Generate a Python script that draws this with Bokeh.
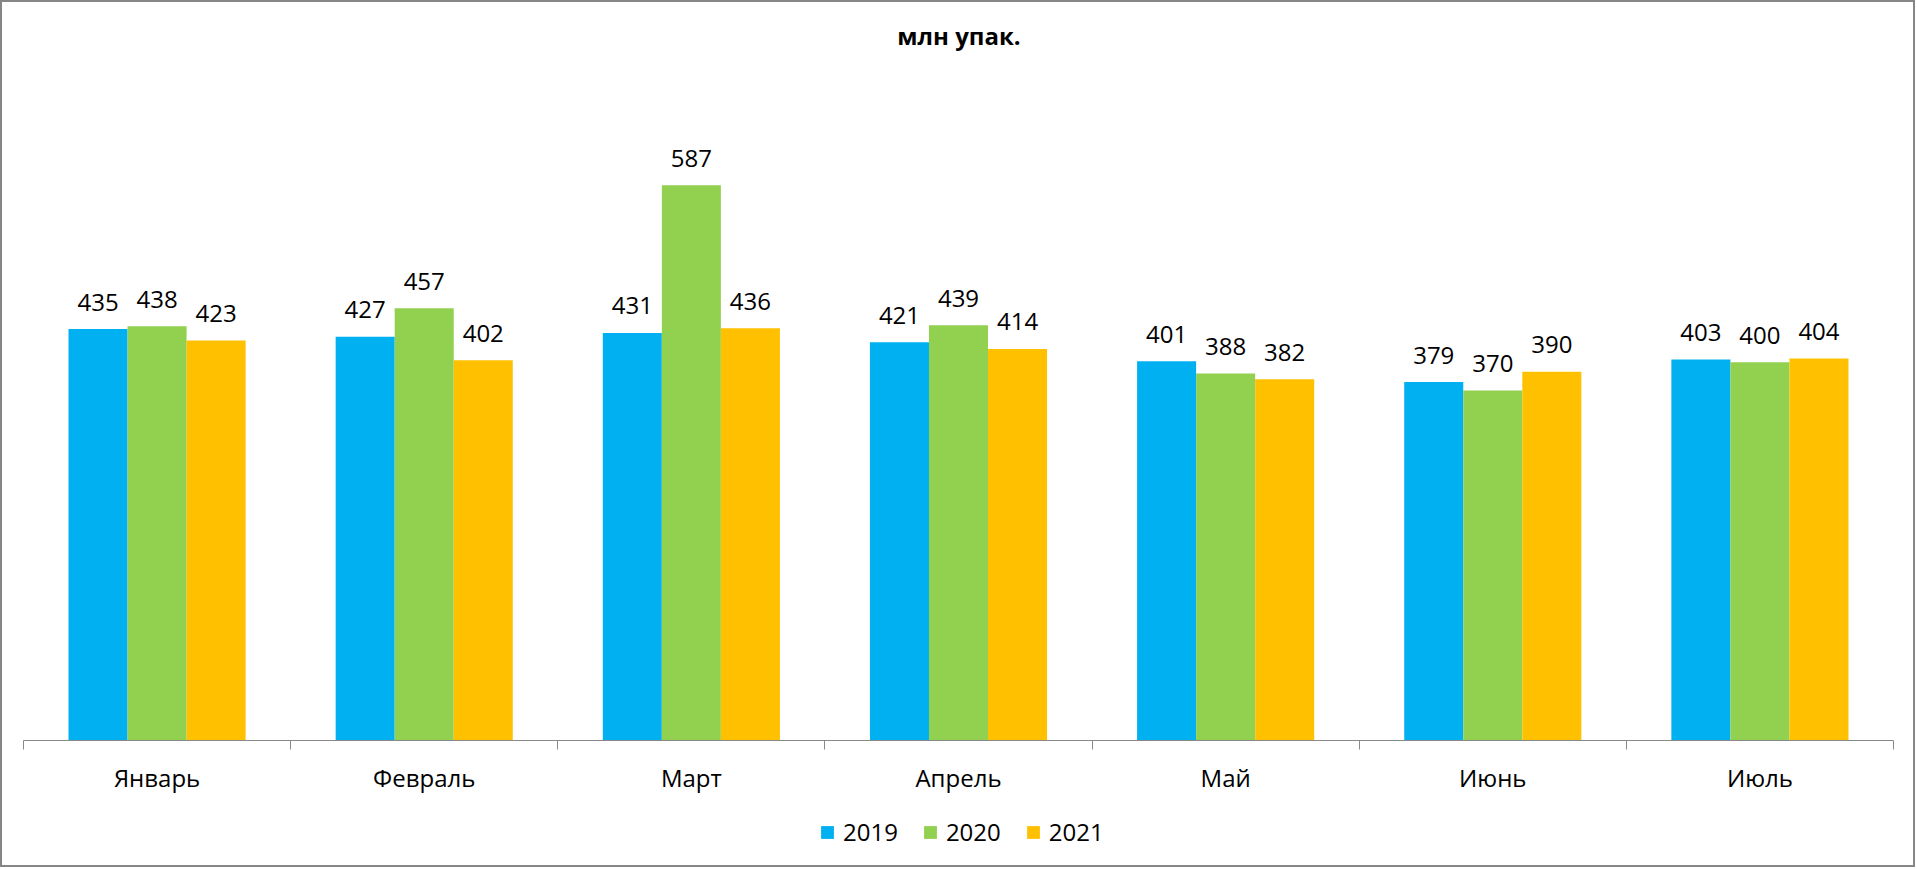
from bokeh.plotting import figure
from bokeh.layouts import column
from bokeh.models import (ColumnDataSource, Range1d, FixedTicker, LinearAxis, Legend,
                          LegendItem, Label)
from bokeh.transform import dodge
from bokeh.core.properties import value
from bokeh.embed import file_html
from bokeh.resources import INLINE

months = ["Январь", "Февраль", "Март", "Апрель", "Май", "Июнь", "Июль"]
years = ["2019", "2020", "2021"]
v2019 = [435, 427, 431, 421, 401, 379, 403]
v2020 = [438, 457, 587, 439, 388, 370, 400]
v2021 = [423, 402, 436, 414, 382, 390, 404]
colors = ["#00B0F0", "#92D050", "#FFC000"]
title_text = "млн упак."

FONT = "Open Sans"
GRAY = "#898989"
W = 1911
TOP_H = 76
FRAME_L, FRAME_R = 21, 20


def strip(height):
    f = figure(width=W, height=height, output_backend="svg", toolbar_location=None,
               x_range=Range1d(0, W), y_range=Range1d(0, height),
               min_border=0, x_axis_type=None, y_axis_type=None)
    f.grid.visible = False
    f.outline_line_color = None
    f.border_fill_color = "white"
    return f


# title strip
t = strip(TOP_H)
t.add_layout(Label(x=FRAME_L + (W - FRAME_L - FRAME_R) / 2, y=43, text=title_text,
                   text_align="center", text_baseline="alphabetic",
                   text_font=FONT, text_font_size="24px", text_font_style="bold",
                   text_color="black"))

# main chart
xs = [i + 0.5 for i in range(len(months))]
src = ColumnDataSource(dict(
    x=xs,
    v2019=v2019, v2020=v2020, v2021=v2021,
    t2019=[str(v) for v in v2019],
    t2020=[str(v) for v in v2020],
    t2021=[str(v) for v in v2021],
))

p = figure(width=W, height=724, output_backend="svg", toolbar_location=None,
           x_range=Range1d(0, len(months)), y_range=Range1d(0, 700),
           min_border_left=FRAME_L, min_border_right=FRAME_R, min_border_top=0,
           min_border_bottom=62, x_axis_type=None, y_axis_type=None)
p.grid.visible = False
p.outline_line_color = None
p.background_fill_color = "white"
p.border_fill_color = "white"

bw = 0.221
offsets = [-bw, 0.0, bw]
for yr, col, off in zip(years, colors, offsets):
    p.vbar(x=dodge("x", off), top="v" + yr, width=bw, bottom=0,
           source=src, fill_color=col, line_color=None)
    p.text(x=dodge("x", off), y="v" + yr, text="t" + yr, source=src,
           text_align="center", text_baseline="alphabetic", y_offset=-27,
           text_font=value(FONT), text_font_size="24px", text_color="black")

ax = LinearAxis(ticker=FixedTicker(ticks=xs, minor_ticks=list(range(len(months) + 1))))
ax.major_label_overrides = {x: m for x, m in zip(xs, months)}
ax.axis_line_color = GRAY
ax.axis_line_width = 1
ax.major_tick_line_color = None
ax.major_tick_out = 0
ax.major_tick_in = 0
ax.minor_tick_line_color = GRAY
ax.minor_tick_out = 9
ax.minor_tick_in = 0
ax.major_label_standoff = 11
ax.major_label_text_font = FONT
ax.major_label_text_font_size = "24px"
ax.major_label_text_color = "black"
p.add_layout(ax, "below")

# legend strip below the chart
q = strip(63)
lsrc = ColumnDataSource(dict(year=years, color=colors, x=[0.5] * len(years),
                             h=[0] * len(years)))
lr = q.vbar(x="x", top="h", bottom="h", width=1, fill_color="color",
            line_color=None, source=lsrc)
legend = Legend(items=[LegendItem(label=yr, renderers=[lr], index=i)
                       for i, yr in enumerate(years)],
                orientation="horizontal", location=(796, 17),
                glyph_width=16, glyph_height=16, label_standoff=8, spacing=24,
                label_text_font=FONT, label_text_font_size="24px",
                label_text_color="black",
                label_height=24, border_line_color=None, background_fill_alpha=0,
                margin=0, padding=0)
q.add_layout(legend, "center")

layout = column(t, p, q, spacing=0, styles={"border": "2px solid #868686"})

open("out.html", "w").write(file_html(layout, INLINE))
